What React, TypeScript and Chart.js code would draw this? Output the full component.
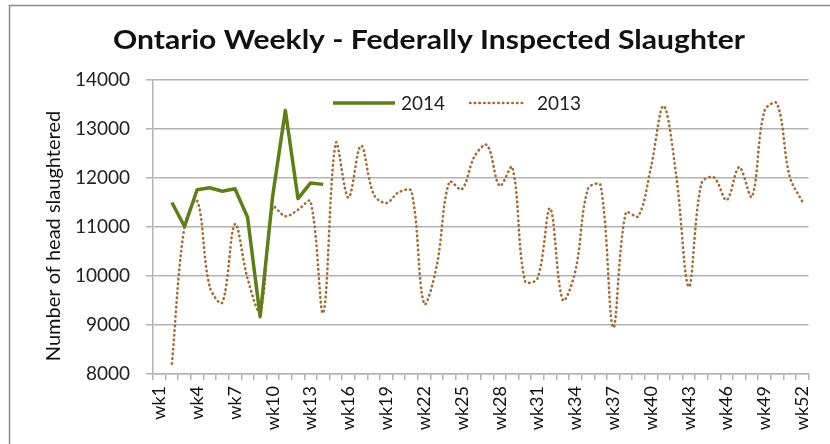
import React, { useEffect, useRef } from "react";
import { Chart, registerables } from "chart.js";

Chart.register(...registerables);

const weeks: string[] = Array.from({ length: 52 }, (_, i) => `wk${i + 1}`);

const series2014: (number | null)[] = [
  null, 11500, 11010, 11760, 11800, 11730, 11780, 11200, 9170, 11650,
  13380, 11580, 11900, 11870,
  ...Array(38).fill(null),
];

const series2013: (number | null)[] = [
  null, 8210, 11010, 11540, 9780, 9460, 11060, 9950, 9280, 11400,
  11220, 11350, 11520, 9250, 12710, 11600, 12660, 11670, 11490, 11710,
  11730, 9440, 10200, 11920, 11770, 12440, 12670, 11840, 12220, 9900,
  9950, 11380, 9510, 10100, 11780, 11850, 8950, 11290, 11220, 12220,
  13470, 12050, 9780, 11890, 12010, 11550, 12220, 11620, 13370, 13520,
  12030, 11520,
];

const yTicks: number[] = [8000, 9000, 10000, 11000, 12000, 13000, 14000];

const titleText = "Ontario Weekly - Federally Inspected Slaughter";
const yTitleText = "Number of head slaughtered";
const legendLabels = ["2014", "2013"];

const GREEN = "#5E7F17";
const BROWN = "#A66B35";
const GRID = "#B3B3B3";
const FONT = "Lato, 'Open Sans', sans-serif";
const DOTS = [0.5, 4.2];

const decorPlugin = {
  id: "decor",
  beforeDraw(chart: any) {
    const ctx = chart.ctx;
    ctx.save();
    ctx.fillStyle = "#ffffff";
    ctx.fillRect(0, 0, chart.width, chart.height);
    ctx.strokeStyle = "#8a8a8a";
    ctx.lineWidth = 1.5;
    ctx.strokeRect(9.5, 5.5, 900, 600);
    ctx.restore();
  },
  afterDraw(chart: any) {
    const ctx = chart.ctx;
    ctx.save();
    // title, fitted to the reference width
    ctx.fillStyle = "#111";
    ctx.font = `bold 26px ${FONT}`;
    ctx.textAlign = "center";
    ctx.textBaseline = "middle";
    const w = ctx.measureText(titleText).width;
    ctx.save();
    ctx.translate(429, 41);
    ctx.scale(632 / w, 1);
    ctx.fillText(titleText, 0, 0);
    ctx.restore();
    // y title
    ctx.save();
    ctx.translate(54, 236);
    ctx.rotate(-Math.PI / 2);
    ctx.font = `20px ${FONT}`;
    ctx.fillStyle = "#111";
    ctx.fillText(yTitleText, 0, 0);
    ctx.restore();
    // legend
    const ly = 103;
    ctx.lineWidth = 3.5;
    ctx.strokeStyle = GREEN;
    ctx.beginPath();
    ctx.moveTo(333, ly);
    ctx.lineTo(395, ly);
    ctx.stroke();
    ctx.lineWidth = 2.6;
    ctx.strokeStyle = BROWN;
    ctx.lineCap = "round";
    ctx.setLineDash(DOTS);
    ctx.beginPath();
    ctx.moveTo(470, ly);
    ctx.lineTo(526, ly);
    ctx.stroke();
    ctx.setLineDash([]);
    ctx.font = `19px ${FONT}`;
    ctx.fillStyle = "#222";
    ctx.textAlign = "left";
    ctx.fillText(legendLabels[0], 401, ly + 1);
    ctx.fillText(legendLabels[1], 537, ly + 1);
    ctx.restore();
  },
};

export default function App() {
  const ref = useRef<HTMLCanvasElement | null>(null);

  useEffect(() => {
    if (!ref.current) return;
    const chart = new Chart(ref.current, {
      type: "line",
      data: {
        labels: weeks,
        datasets: [
          {
            label: legendLabels[0],
            data: series2014,
            borderColor: GREEN,
            backgroundColor: GREEN,
            borderWidth: 3.5,
            pointRadius: 0,
            tension: 0,
            borderJoinStyle: "round",
          },
          {
            label: legendLabels[1],
            data: series2013,
            borderColor: BROWN,
            backgroundColor: BROWN,
            borderWidth: 2.6,
            borderDash: DOTS,
            borderCapStyle: "round",
            pointRadius: 0,
            tension: 0.35,
          },
        ],
      },
      options: {
        animation: false,
        responsive: false,
        devicePixelRatio: 1,
        layout: { padding: { top: 80, right: 11, left: 0, bottom: 0 } },
        plugins: {
          legend: { display: false },
          title: { display: false },
          tooltip: { enabled: false },
        },
        scales: {
          x: {
            type: "category",
            offset: true,
            grid: {
              offset: true,
              drawOnChartArea: false,
              drawTicks: true,
              tickLength: 6,
              color: GRID,
              lineWidth: 1.5,
            },
            border: { color: GRID, width: 1.5 },
            ticks: {
              autoSkip: false,
              minRotation: 90,
              maxRotation: 90,
              padding: 6,
              color: "#111",
              font: { family: FONT, size: 18 },
              callback: (_v: any, i: number) => (i % 3 === 0 ? weeks[i] : ""),
            },
            afterFit: (s: any) => {
              s.height = 70;
            },
          },
          y: {
            min: 8000,
            max: 14000,
            afterBuildTicks: (s: any) => {
              s.ticks = yTicks.map((v) => ({ value: v }));
            },
            grid: {
              color: GRID,
              lineWidth: 1.5,
              drawTicks: true,
              tickLength: 7,
            },
            border: { color: GRID, width: 1.5 },
            ticks: {
              padding: 16,
              color: "#222",
              font: { family: FONT, size: 19 },
              callback: (v: any) => String(v),
            },
            afterFit: (s: any) => {
              s.width = 153;
            },
          },
        },
      },
      plugins: [decorPlugin],
    });
    return () => chart.destroy();
  }, []);

  return (
    <div style={{ position: "fixed", left: 0, top: 0, width: 830, height: 444, background: "#fff" }}>
      <canvas ref={ref} width={830} height={444} />
    </div>
  );
}
